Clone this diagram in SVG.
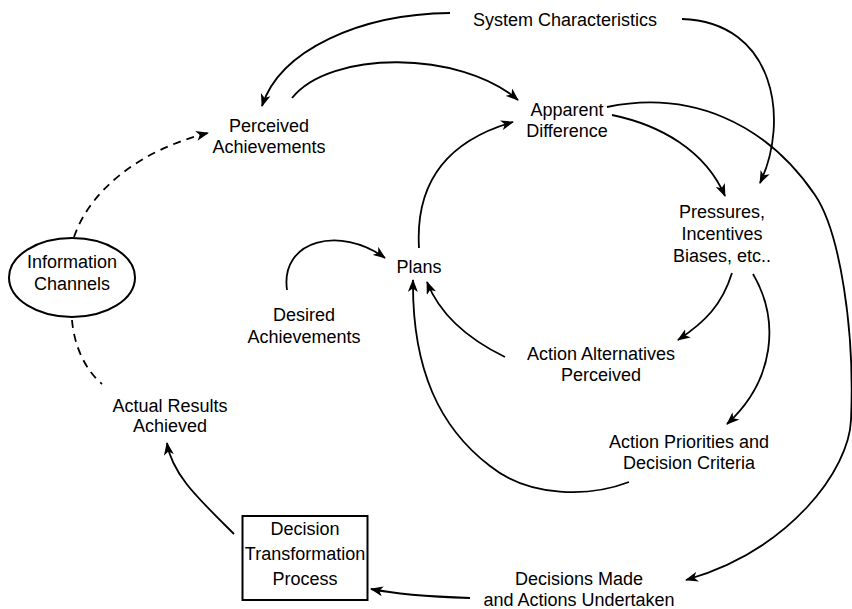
<svg xmlns="http://www.w3.org/2000/svg" width="852" height="609" viewBox="0 0 852 609">
  <style>
    text { font-family: "Liberation Sans", Arial, sans-serif; font-size: 18px; fill: #000; text-anchor: middle; }
    .link { fill: none; stroke: #000; stroke-width: 1.8; }
    .arrow { marker-end: url(#head); }
    .dash { stroke-dasharray: 8 6; }
    .shape { fill: #fff; stroke: #000; stroke-width: 2; }
  </style>
  <defs>
    <marker id="head" markerWidth="14" markerHeight="10" refX="12" refY="5" orient="auto" markerUnits="userSpaceOnUse">
      <path d="M0,0 L13,5 L0,10 L3.5,5 z" fill="#000"/>
    </marker>
  </defs>
  <rect width="852" height="609" fill="#fff"/>

  <!-- connectors -->
  <g id="connectors">
    <path class="link arrow" d="M450,13 C360,14 280,50 262,106"/>
    <path class="link arrow" d="M292,98 C330,50 460,50 518,100"/>
    <path class="link arrow" d="M682,19 C775,22 790,120 760,183"/>
    <path class="link arrow" d="M612,115 C660,125 705,150 725,196"/>
    <path class="link arrow" d="M607,107 C690,90 765,122 815,195 C840,232 855,330 851,420 C849,470 790,550 686,580"/>
    <path class="link arrow" d="M419,248 C415,180 450,140 513,122"/>
    <path class="link arrow" d="M287,290 C280,240 340,225 385,258"/>
    <path class="link arrow" d="M732,273 C722,305 705,322 678,340"/>
    <path class="link arrow" d="M753,274 C780,320 775,380 727,424"/>
    <path class="link arrow" d="M505,357 C470,340 440,315 427,282"/>
    <path class="link arrow" d="M629,482 C590,497 530,498 490,466 C440,428 412,370 413,280"/>
    <path class="link arrow" d="M470,598 C440,597 400,595 371,589"/>
    <path class="link arrow" d="M234,534 C200,500 172,475 167,443"/>
    <path class="link arrow dash" d="M74,237 C90,190 140,150 208,133"/>
    <path class="link dash" d="M72,320 C74,345 85,370 102,384"/>
  </g>

  <g id="system-characteristics">
    <text x="565" y="26">System Characteristics</text>
  </g>
  <g id="perceived-achievements">
    <text x="269" y="132">Perceived</text>
    <text x="269" y="153">Achievements</text>
  </g>
  <g id="apparent-difference">
    <text x="567" y="116">Apparent</text>
    <text x="567" y="137">Difference</text>
  </g>
  <g id="pressures">
    <text x="722" y="218">Pressures,</text>
    <text x="722" y="240">Incentives</text>
    <text x="722" y="262">Biases, etc..</text>
  </g>
  <g id="plans">
    <text x="419" y="273">Plans</text>
  </g>
  <g id="desired-achievements">
    <text x="304" y="321">Desired</text>
    <text x="304" y="343">Achievements</text>
  </g>
  <g id="information-channels">
    <ellipse class="shape" cx="72" cy="277.5" rx="63" ry="39.5"/>
    <text x="72" y="268">Information</text>
    <text x="72" y="290">Channels</text>
  </g>
  <g id="action-alternatives">
    <text x="601" y="360">Action Alternatives</text>
    <text x="601" y="381">Perceived</text>
  </g>
  <g id="action-priorities">
    <text x="689" y="448">Action Priorities and</text>
    <text x="689" y="469">Decision Criteria</text>
  </g>
  <g id="actual-results">
    <text x="170" y="412">Actual Results</text>
    <text x="170" y="432">Achieved</text>
  </g>
  <g id="decision-transformation">
    <rect class="shape" x="242.5" y="516" width="125" height="84"/>
    <text x="305" y="535">Decision</text>
    <text x="305" y="560">Transformation</text>
    <text x="305" y="585">Process</text>
  </g>
  <g id="decisions-made">
    <text x="579" y="585">Decisions Made</text>
    <text x="579" y="606">and Actions Undertaken</text>
  </g>
</svg>
